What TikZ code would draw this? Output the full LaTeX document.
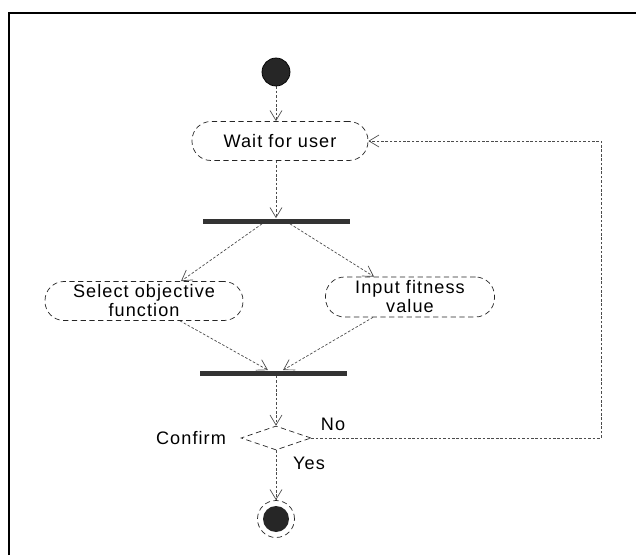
\documentclass[tikz,border=0pt]{standalone}
\usepackage{fontspec}
\setmainfont{Liberation Sans}[LetterSpace=6]
\usetikzlibrary{positioning}
\usetikzlibrary{shapes.geometric,arrows.meta}
\pgfdeclarelayer{background}
\pgfsetlayers{background,main}

\begin{document}
\begin{tikzpicture}[
					actnode/.style={rectangle, rounded corners=0.38cm, draw=black!85, densely dashed, fill=white, minimum height=0.78cm, inner sep=1pt, align=center, font=\fontsize{10.3}{10.8}\selectfont},
					barnode/.style={rectangle, fill=black!80, minimum width=2.94cm, minimum height=0.1cm, inner sep=0pt},
					choicenode/.style={diamond, draw=black!85, densely dashed, fill=white, minimum width=1.4cm, minimum height=0.48cm, inner sep=0pt},
					startnode/.style={circle, draw=black, fill=black!85, minimum size=0.56cm},
					endnode/.style={circle, draw=black!85, densely dashed, fill=white, minimum size=0.74cm, path picture={\fill[black!85] (path picture bounding box.center) circle (0.26cm);}},
					lbl/.style={font=\fontsize{10.3}{11}\selectfont},
					flow/.style={dash pattern=on 1.5pt off 1pt, black!70, thin, -{Straight Barb[length=2mm,width=2.4mm]}},
					]
					\useasboundingbox (0,0) rectangle (12.72,11.1);
					%Frame
					\draw[line width=1.1pt] (0.18,0) -- (0.18,10.84) -- (12.72,10.84);

					%Nodes
					\node[startnode]                 (start)   at (5.52,9.66)  {};
					\node[actnode, minimum width=3.52cm] (wait) at (5.6,8.28)   {Wait for user};
					\node[barnode]                   (fork)    at (5.52,6.68)  {};
					\node[actnode, minimum width=3.96cm] (select) at (2.88,5.08) {Select objective\\function};
					\node[actnode, minimum width=3.38cm, minimum height=0.8cm] (input) at (8.2,5.16) {Input fitness\\value};
					\node[barnode]                   (join)    at (5.46,3.64)  {};
					\node[choicenode]                (confirm) at (5.52,2.34)  {};
					\node[endnode]                   (end)     at (5.52,0.72)  {};
					\coordinate                      (loopx)   at (12.02,0);

					%Labels
					\node[lbl] (confirmlbl) at (3.82,2.34) {Confirm};
					\node[lbl] (nolbl)      at (6.66,2.62) {No};
					\node[lbl] (yeslbl)     at (6.18,1.84) {Yes};

					\begin{pgfonlayer}{background}
					%Lines
					\draw[flow] (start) -- (start |- wait.north);
					\draw[flow] (start |- wait.south) -- (fork);
					\draw[flow] ([xshift=-0.28cm]fork.south) -- ([xshift=0.74cm]select.north);
					\draw[flow] ([xshift=0.28cm]fork.south) -- ([xshift=-0.72cm]input.north);
					\draw[flow] ([xshift=0.72cm]select.south) -- ([xshift=-0.1cm]join.north);
					\draw[flow] ([xshift=-0.74cm]input.south) -- ([xshift=0.2cm]join.north);
					\draw[flow] (confirm.north |- join.south) -- (confirm.north);
					\draw[flow] (confirm.south) -- (end);
					\draw[flow] (confirm.east) -- (confirm.east -| loopx) -- (wait.east -| loopx) -- (wait.east);
					\end{pgfonlayer}
				\end{tikzpicture}
\end{document}
